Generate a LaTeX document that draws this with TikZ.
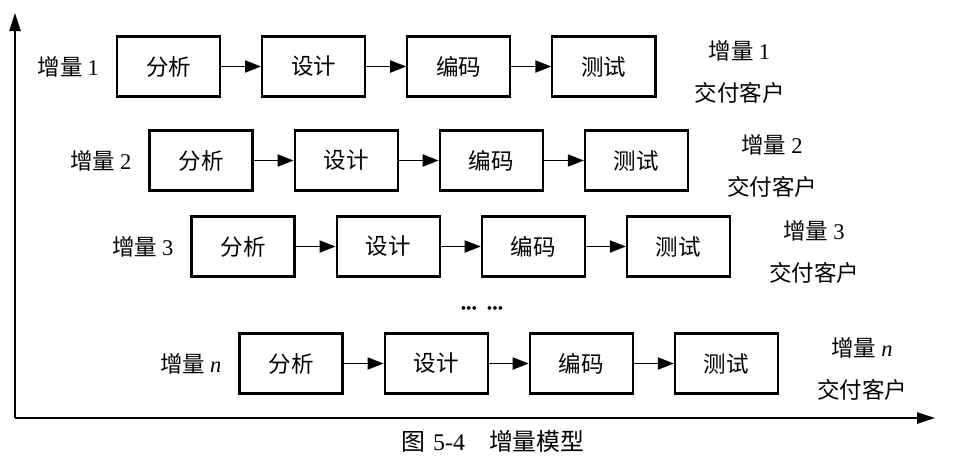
\documentclass[tikz,border=0pt]{standalone}
\usepackage{fontspec}
\setmainfont{Liberation Serif}
\newfontfamily\cjk{Noto Sans CJK SC}
\usepackage{tikz}
\usetikzlibrary{positioning, arrows.meta}

\tikzset{
    stage/.style={draw, line width=1.5pt, minimum width=2.575cm, minimum height=1.5cm,
        font=\cjk\fontsize{16}{19}\selectfont},
    flow/.style={line width=1.3pt, -{Triangle[length=0.4cm, width=0.3cm]}},
    axis/.style={line width=1.5pt, -{Triangle[length=0.45cm, width=0.28cm]}},
    txt/.style={font=\cjk\fontsize{16}{19}\selectfont},
}

\begin{document}
\begin{tikzpicture}[x=0.025cm, y=-0.025cm, node distance=1cm]
        \useasboundingbox (0,0) rectangle (954,469);

        % Define label offsets
        \def\outshift{2.075cm}
        \def\upshift{0.38cm}
        \def\downshift{-0.65cm}

        % Draw the axes
        \coordinate (origin) at (15,418);
        \coordinate (ytop) at (15,13);
        \coordinate (xend) at (935,418);
        \draw[axis] (origin) -- (ytop);
        \draw[axis] (origin) -- (xend);

        % Increment 1
        \node[stage] (fx1) at (168.5,66.5) {分析};
        \node[stage, right=of fx1] (sj1) {设计};
        \node[stage, right=of sj1] (bm1) {编码};
        \node[stage, right=of bm1] (cs1) {测试};
        \draw[flow] (fx1) -- (sj1);
        \draw[flow] (sj1) -- (bm1);
        \draw[flow] (bm1) -- (cs1);
        \node[txt, left=0.3cm of fx1] (zl1) {增量 {\rmfamily 1}};
        \coordinate[right=\outshift of cs1.east] (out1);
        \node[txt] (zr1) at ([yshift=\upshift]out1) {增量 {\rmfamily 1}};
        \node[txt] (jf1) at ([yshift=\downshift]out1) {交付客户};

        % Increment 2
        \node[stage] (fx2) at (201,160.5) {分析};
        \node[stage, right=of fx2] (sj2) {设计};
        \node[stage, right=of sj2] (bm2) {编码};
        \node[stage, right=of bm2] (cs2) {测试};
        \draw[flow] (fx2) -- (sj2);
        \draw[flow] (sj2) -- (bm2);
        \draw[flow] (bm2) -- (cs2);
        \node[txt, left=0.3cm of fx2] (zl2) {增量 {\rmfamily 2}};
        \coordinate[right=\outshift of cs2.east] (out2);
        \node[txt] (zr2) at ([yshift=\upshift]out2) {增量 {\rmfamily 2}};
        \node[txt] (jf2) at ([yshift=\downshift]out2) {交付客户};

        % Increment 3
        \node[stage] (fx3) at (243,246.5) {分析};
        \node[stage, right=of fx3] (sj3) {设计};
        \node[stage, right=of sj3] (bm3) {编码};
        \node[stage, right=of bm3] (cs3) {测试};
        \draw[flow] (fx3) -- (sj3);
        \draw[flow] (sj3) -- (bm3);
        \draw[flow] (bm3) -- (cs3);
        \node[txt, left=0.3cm of fx3] (zl3) {增量 {\rmfamily 3}};
        \coordinate[right=\outshift of cs3.east] (out3);
        \node[txt] (zr3) at ([yshift=\upshift]out3) {增量 {\rmfamily 3}};
        \node[txt] (jf3) at ([yshift=\downshift]out3) {交付客户};

        % Gap between increment 3 and increment n
        \node[font=\rmfamily\fontsize{11}{12}\selectfont] (dots) at (482,310) {•••\hspace{0.25cm}•••};

        % Increment n
        \node[stage] (fxn) at (291,363.5) {分析};
        \node[stage, right=of fxn] (sjn) {设计};
        \node[stage, right=of sjn] (bmn) {编码};
        \node[stage, right=of bmn] (csn) {测试};
        \draw[flow] (fxn) -- (sjn);
        \draw[flow] (sjn) -- (bmn);
        \draw[flow] (bmn) -- (csn);
        \node[txt, left=0.3cm of fxn] (zln) {增量 {\rmfamily\itshape n}};
        \coordinate[right=\outshift of csn.east] (outn);
        \node[txt] (zrn) at ([yshift=\upshift]outn) {增量 {\rmfamily\itshape n}};
        \node[txt] (jfn) at ([yshift=\downshift]outn) {交付客户};

        % Caption
        \node[font=\cjk\fontsize{17}{20}\selectfont] (caption) at (493,441)
            {图\hspace{0.2cm}{\rmfamily 5-4}\hspace{0.6cm}增量模型};

    \end{tikzpicture}
\end{document}
